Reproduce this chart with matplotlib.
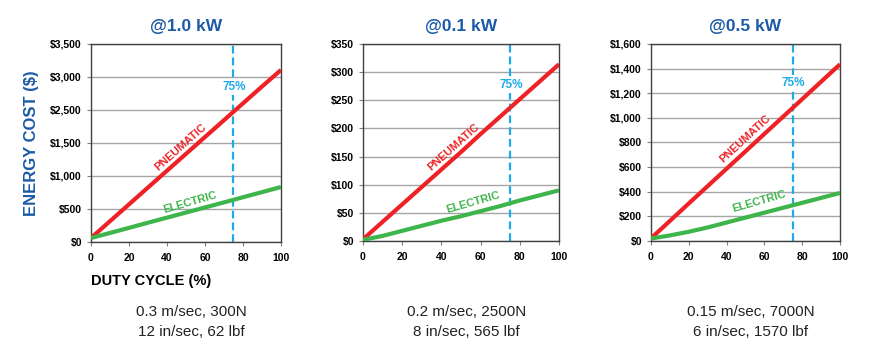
import numpy as np
import matplotlib.pyplot as plt

plt.rcParams['font.family'] = ['Liberation Sans Narrow', 'Liberation Sans', 'DejaVu Sans']

# duty cycle (%)
duty = [0, 10, 20, 30, 40, 50, 60, 70, 80, 90, 100]

# panel 1 (@1.0 kW) -- values in axis units (tick labels in source skip $2,000)
pneu_1 = [60, 315, 570, 825, 1080, 1335, 1590, 1845, 2100, 2355, 2606]
elec_1 = [60, 137, 214, 292, 369, 446, 523, 600, 678, 755, 833]
yticks_1 = [0, 500, 1000, 1500, 2000, 2500, 3000]
ylabels_1 = ['$0', '$500', '$1,000', '$1,500', '$2,500', '$3,000', '$3,500']

# panel 2 (@0.1 kW)
pneu_2 = [3, 34, 65, 96, 127, 158, 190, 221, 252, 283, 314]
elec_2 = [2, 9, 18, 27, 36, 44, 53, 62, 72, 81, 90]
yticks_2 = [0, 50, 100, 150, 200, 250, 300, 350]
ylabels_2 = ['$0', '$50', '$100', '$150', '$200', '$250', '$300', '$350']

# panel 3 (@0.5 kW)
pneu_3 = [22, 163, 305, 446, 587, 728, 870, 1011, 1152, 1294, 1435]
elec_3 = [20, 45, 75, 110, 150, 190, 230, 270, 310, 350, 390]
yticks_3 = [0, 200, 400, 600, 800, 1000, 1200, 1400, 1600]
ylabels_3 = ['$0', '$200', '$400', '$600', '$800', '$1,000', '$1,200', '$1,400', '$1,600']

titles = ['@1.0 kW', '@0.1 kW', '@0.5 kW']
notes = [['0.3 m/sec, 300N', '12 in/sec, 62 lbf'],
         ['0.2 m/sec, 2500N', '8 in/sec, 565 lbf'],
         ['0.15 m/sec, 7000N', '6 in/sec, 1570 lbf']]

RED = '#ee2226'
GREEN = '#3db54a'
CYAN = '#1eaae7'
NAVY = '#1b5aa6'

panels = [
    dict(pos=[0.1042, 0.3278, 0.2176, 0.55], pneu=pneu_1, elec=elec_1, yt=yticks_1, yl=ylabels_1,
         ylim=3000, ptxt=(47, 1440, 41.5), etxt=(52, 606, 16), ltxt=2350),
    dict(pos=[0.4158, 0.3306, 0.2245, 0.5472], pneu=pneu_2, elec=elec_2, yt=yticks_2, yl=ylabels_2,
         ylim=350, ptxt=(46, 167, 41.6), etxt=(56, 69, 16), ltxt=277),
    dict(pos=[0.7457, 0.3306, 0.2165, 0.5472], pneu=pneu_3, elec=elec_3, yt=yticks_3, yl=ylabels_3,
         ylim=1600, ptxt=(50, 828, 42.6), etxt=(57, 317, 16), ltxt=1283),
]

fig = plt.figure(figsize=(8.73, 3.6), dpi=100)

for i, p in enumerate(panels):
    ax = fig.add_axes(p['pos'])
    ax.set_xlim(0, 100)
    ax.set_ylim(0, p['ylim'])
    ax.set_yticks(p['yt'])
    ax.set_yticklabels(p['yl'])
    ax.set_xticks([0, 20, 40, 60, 80, 100])
    ax.grid(axis='y', color='#a6a6a6', linewidth=1.0)
    ax.set_axisbelow(True)
    for s in ax.spines.values():
        s.set_color('#404040')
        s.set_linewidth(1.0)
    ax.tick_params(axis='both', labelsize=7.5, length=3, color='#808080')
    ax.tick_params(axis='x', pad=5)
    for lab in ax.get_xticklabels() + ax.get_yticklabels():
        lab.set_fontweight('bold')

    ax.plot(duty, p['pneu'], color=RED, linewidth=3, solid_capstyle='butt', zorder=3)
    ax.plot(duty, p['elec'], color=GREEN, linewidth=3, solid_capstyle='butt', zorder=3)
    ax.axvline(75, color=CYAN, linewidth=1.6, linestyle=(0, (3.5, 1.8)), zorder=2)

    x, y, r = p['ptxt']
    ax.text(x, y, 'PNEUMATIC', color=RED, fontsize=8, fontweight='bold', rotation=r,
            ha='center', va='center', rotation_mode='anchor')
    x, y, r = p['etxt']
    ax.text(x, y, 'ELECTRIC', color=GREEN, fontsize=8, fontweight='bold', rotation=r,
            ha='center', va='center', rotation_mode='anchor')
    ax.text(75.5, p['ltxt'], '75%', color=CYAN, fontsize=8.5, fontweight='bold',
            ha='center', va='center', zorder=2.5,
            bbox=dict(boxstyle='square,pad=0.15', fc='white', ec='none'))

    ax.set_title(titles[i], color=NAVY, fontsize=12.5, fontweight='bold', pad=9)

    cx = p['pos'][0] + p['pos'][2] / 2
    fig.text(cx + 0.006, 0.133, notes[i][0], fontsize=11, ha='center', va='center', color='#222222')
    fig.text(cx + 0.006, 0.078, notes[i][1], fontsize=11, ha='center', va='center', color='#222222')

    if i == 0:
        ax.set_ylabel('ENERGY COST ($)', color=NAVY, fontsize=12, fontweight='bold', labelpad=8)
        ax.set_xlabel('DUTY CYCLE (%)', fontsize=10.5, fontweight='bold', labelpad=8, loc='left')

fig.savefig('out.png', dpi=100)
